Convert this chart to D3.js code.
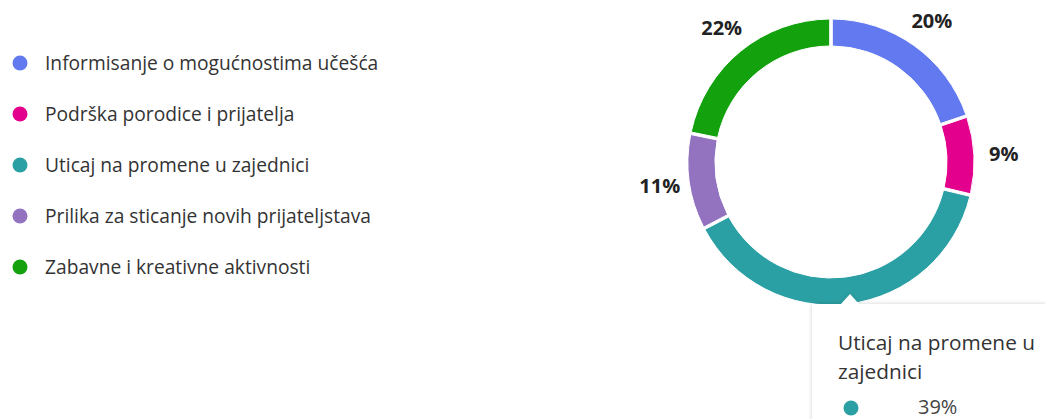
<!DOCTYPE html>
<html>
<head>
<meta charset="utf-8">
<script src="https://cdn.jsdelivr.net/npm/d3@7"></script>
<style>
  body { margin:0; background:#fff; font-family:"Open Sans", sans-serif; }
  svg text { font-family:"Open Sans", sans-serif; }
</style>
</head>
<body>
<div id="chart"></div>
<script>
var categories = [
  "Informisanje o mogućnostima učešća",
  "Podrška porodice i prijatelja",
  "Uticaj na promene u zajednici",
  "Prilika za sticanje novih prijateljstava",
  "Zabavne i kreativne aktivnosti"
];
var values = [20, 9, 39, 11, 22];
var colors = ["#6379ef", "#e3008c", "#2ba0a4", "#9373c0", "#13a10e"];
var hovered = 2; // tooltip shown for this slice

var width = 1045, height = 419;
var cx = 831, cy = 162, outerR = 143, innerR = 116;

var svg = d3.select("#chart")
  .append("svg")
  .attr("width", width)
  .attr("height", height);

// legend
var legend = svg.append("g").attr("transform", "translate(20,63)");
var rows = legend.selectAll(".row")
  .data(categories)
  .enter().append("g")
  .attr("class", "row")
  .attr("transform", function(d, i) { return "translate(0," + (i * 51) + ")"; });

rows.append("circle")
  .attr("r", 7.5)
  .attr("fill", function(d, i) { return colors[i]; });

rows.append("text")
  .attr("x", 25)
  .attr("dy", "0.35em")
  .attr("fill", "#333")
  .style("font-size", "19.2px")
  .text(function(d) { return d; });

// donut
var pie = d3.pie().sort(null).value(function(d) { return d; });
var arcs = pie(values);

var arc = d3.arc()
  .innerRadius(innerR)
  .outerRadius(outerR)
  .padAngle(0.014);

var labelArc = d3.arc().innerRadius(173).outerRadius(173);

var g = svg.append("g").attr("transform", "translate(" + cx + "," + cy + ")");

g.selectAll(".slice")
  .data(arcs)
  .enter().append("path")
  .attr("class", "slice")
  .attr("d", arc)
  .attr("fill", function(d, i) { return colors[i]; })
  .attr("stroke", "#fff")
  .attr("stroke-width", 1);

// label of the hovered slice sits under the tooltip, so skip it
g.selectAll(".pct")
  .data(arcs.filter(function(d) { return d.index !== hovered; }))
  .enter().append("text")
  .attr("class", "pct")
  .attr("transform", function(d) { return "translate(" + labelArc.centroid(d) + ")"; })
  .attr("text-anchor", "middle")
  .attr("dy", "0.35em")
  .attr("fill", "#222")
  .style("font-size", "20px")
  .style("font-weight", "bold")
  .text(function(d) { return d.data + "%"; });

// tooltip
var tip = svg.append("g").attr("transform", "translate(812,304)");

var defs = svg.append("defs");
var f = defs.append("filter").attr("id", "shadow")
  .attr("x", "-10%").attr("y", "-10%").attr("width", "130%").attr("height", "130%");
f.append("feDropShadow").attr("dx", 0).attr("dy", 0).attr("stdDeviation", 2)
  .attr("flood-color", "#000").attr("flood-opacity", 0.18);

tip.append("path")
  .attr("d", "M0,0 H29 L38,-10 L47,0 H240 V130 H0 Z")
  .attr("fill", "#fff")
  .attr("filter", "url(#shadow)");

tip.append("text")
  .attr("x", 26).attr("y", 46)
  .attr("fill", "#333")
  .style("font-size", "20.8px")
  .text("Uticaj na promene u");
tip.append("text")
  .attr("x", 26).attr("y", 75)
  .attr("fill", "#333")
  .style("font-size", "20.8px")
  .text("zajednici");

tip.append("circle")
  .attr("cx", 39).attr("cy", 104).attr("r", 7.5)
  .attr("fill", colors[hovered]);
tip.append("text")
  .attr("x", 106).attr("y", 110)
  .attr("fill", "#444")
  .style("font-size", "20px")
  .text(values[hovered] + "%");
</script>
</body>
</html>
